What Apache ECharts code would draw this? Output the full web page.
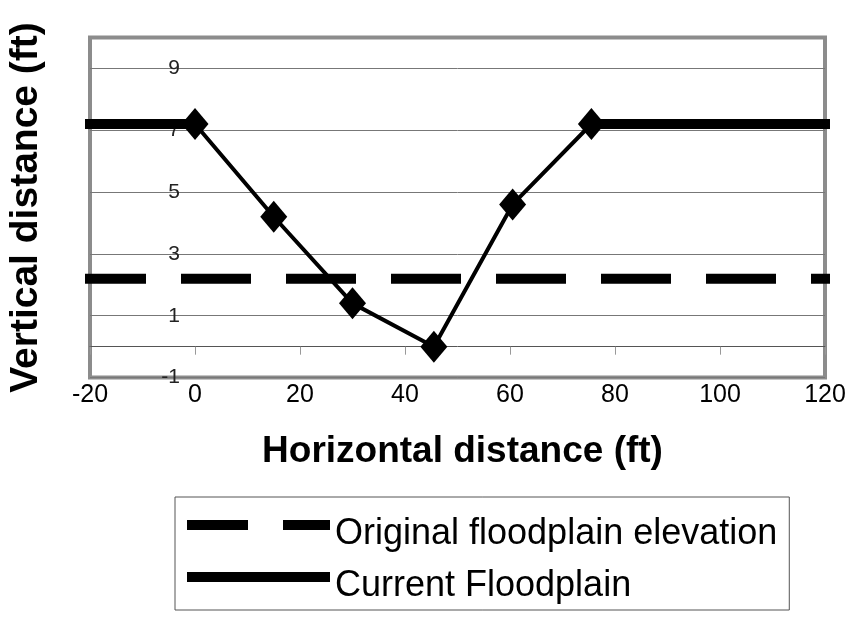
<!DOCTYPE html>
<html><head><meta charset="utf-8">
<script src="https://cdn.jsdelivr.net/npm/echarts@6/dist/echarts.min.js"></script>
<style>html,body{margin:0;padding:0;background:#fff}#c{width:849px;height:624px}</style>
</head><body><div id="c"></div>
<script>
// ---- data ----
const sectionX = [0, 15, 30, 45.5, 60.5, 75.5];
const sectionY = [7.2, 4.2, 1.4, 0, 4.6, 7.2];
const currentLeftX = [-20, 0];
const currentRightX = [75.5, 120];
const currentElev = 7.2;
const originalX = [-20, 120];
const originalElev = 2.2;
const legendNames = ['Original floodplain elevation', 'Current Floodplain'];
const xTitle = 'Horizontal distance (ft)';
const yTitle = 'Vertical distance (ft)';
const xRange = [-20, 120, 20];   // min, max, interval
const yRange = [-1, 10, 1];      // labels shown on odd values only

const SANS = "'Liberation Sans',Arial,sans-serif";

const pairs = (xs, ys) => xs.map((x, i) => [x, Array.isArray(ys) ? ys[i] : ys]);

const chart = echarts.init(document.getElementById('c'), null, {renderer: 'canvas'});
chart.setOption({
  backgroundColor: '#fff',
  animation: false,
  grid: {left: 90, right: 24, top: 37.4, bottom: 246.4, show: true, containLabel: false,
         outerBoundsMode: 'none',
         borderColor: '#8c8c8c', borderWidth: 4, backgroundColor: 'transparent'},
  xAxis: [{
    type: 'value', min: xRange[0], max: xRange[1], interval: xRange[2], position: 'bottom',
    axisLine: {show: false, onZero: false}, axisTick: {show: false}, splitLine: {show: false},
    axisLabel: {fontFamily: SANS, fontSize: 25, color: '#000', margin: 5},
    name: xTitle, nameLocation: 'middle', nameGap: 56,
    nameTextStyle: {fontFamily: SANS, fontWeight: 'bold', fontSize: 37, color: '#000', padding: [0, 0, 0, 10]}
  }, {
    type: 'value', min: xRange[0], max: xRange[1], interval: xRange[2], position: 'top',
    axisLine: {show: true, onZero: true, lineStyle: {color: '#555', width: 1}},
    axisTick: {show: true, inside: true, length: 8, lineStyle: {color: '#999', width: 1}},
    axisLabel: {show: false}, splitLine: {show: false}
  }],
  yAxis: {
    type: 'value', min: yRange[0], max: yRange[1], interval: yRange[2],
    axisLine: {show: false, onZero: false}, axisTick: {show: false},
    splitLine: {show: true, lineStyle: {color: ['#777', 'rgba(0,0,0,0)'], width: 1}},
    axisLabel: {fontFamily: SANS, fontSize: 21, color: '#222', margin: -90, padding: [6, 0, 0, 0],
      formatter: v => (Math.round(v) % 2 !== 0 ? String(v) : '')},
    name: yTitle, nameLocation: 'middle', nameGap: 44, nameRotate: 90,
    nameTextStyle: {fontFamily: SANS, fontWeight: 'bold', fontSize: 39, color: '#000'}
  },
  legend: {
    orient: 'vertical', left: 175, top: 497,
    padding: [1, 12, 6, 7], itemGap: -2,
    itemWidth: 143, itemHeight: 10,
    borderColor: '#555', borderWidth: 1, backgroundColor: '#fff',
    itemStyle: {opacity: 0},
    lineStyle: {width: 10, cap: 'butt'},
    formatter: n => '{s|}{t|' + n + '}',
    textStyle: {color: '#000', fontFamily: SANS, fontSize: 36,
      rich: {
        s: {width: 0, height: 54, lineHeight: 54},
        t: {fontFamily: SANS, fontSize: 36, color: '#000', lineHeight: 36, verticalAlign: 'bottom'}
      }},
    data: [
      {name: legendNames[0], lineStyle: {width: 10, type: [61, 35], color: '#000', cap: 'butt', dashOffset: 0}},
      {name: legendNames[1], lineStyle: {width: 10, type: 'solid', color: '#000', cap: 'butt'}}
    ]
  },
  series: [
    {
      name: 'Cross section', type: 'line', data: pairs(sectionX, sectionY),
      symbol: 'diamond', symbolSize: [27, 32], showAllSymbol: true,
      itemStyle: {color: '#000'}, lineStyle: {color: '#000', width: 4}, z: 4
    },
    {
      name: legendNames[0], type: 'line', data: pairs(originalX, originalElev),
      symbol: 'none', clip: false, itemStyle: {color: '#000'},
      lineStyle: {color: '#000', width: 10, type: [60, 45], dashOffset: 9, cap: 'square'}, z: 3
    },
    {
      name: legendNames[1], type: 'line', data: pairs(currentLeftX, currentElev),
      symbol: 'none', clip: false, itemStyle: {color: '#000'},
      lineStyle: {color: '#000', width: 10, cap: 'square'}, z: 3
    },
    {
      name: legendNames[1], type: 'line', data: pairs(currentRightX, currentElev),
      symbol: 'none', clip: false, itemStyle: {color: '#000'},
      lineStyle: {color: '#000', width: 10, cap: 'square'}, z: 3
    }
  ]
});
</script>
</body></html>
